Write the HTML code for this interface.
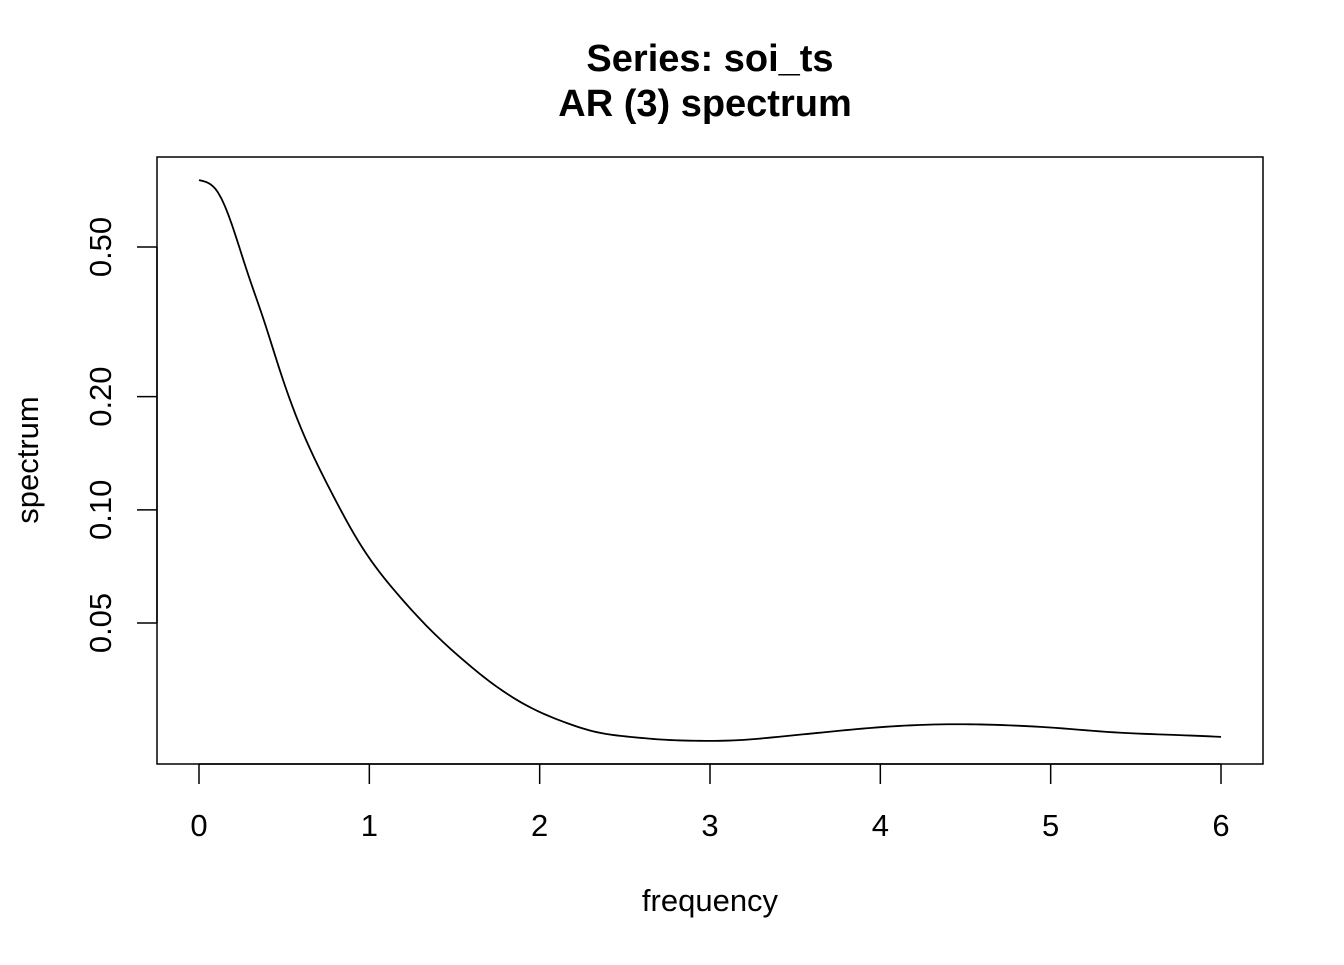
<!DOCTYPE html>
<html><head><meta charset="utf-8"><style>
body{margin:0;background:#fff}
text{font-family:"Liberation Sans",Arial,sans-serif;fill:#000}
</style></head><body>
<svg id="chart" width="1344" height="960" xmlns="http://www.w3.org/2000/svg">
<rect width="1344" height="960" fill="#fff"/>
<text x="710" y="71" font-size="38" font-weight="bold" text-anchor="middle">Series: soi_ts</text>
<text x="705" y="116" font-size="38" font-weight="bold" text-anchor="middle">AR (3) spectrum</text>
<rect x="157" y="157" width="1106" height="607" fill="none" stroke="#000" stroke-width="1.5"/>
<g id="xaxis"></g>
<g id="yaxis"></g>
<text x="710" y="911" font-size="31" text-anchor="middle">frequency</text>
<text transform="translate(38,460) rotate(-90)" font-size="31" text-anchor="middle">spectrum</text>
<path id="curve" fill="none" stroke="#000" stroke-width="1.8"/>
</svg>
<script>
const freq=[0,0.11,0.28,0.38,0.48,0.58,0.77,0.96,1.16,1.36,1.55,1.75,1.94,2.14,2.34,2.53,2.71,2.94,3.17,3.40,3.63,3.86,4.10,4.44,4.67,5.03,5.37,5.72,6.0];
const spec=[0.753,0.700,0.434,0.320,0.231,0.173,0.113,0.0792,0.0601,0.0479,0.0399,0.0338,0.0299,0.0273,0.0256,0.0249,0.0245,0.0243,0.0244,0.0249,0.0255,0.0261,0.0266,0.0269,0.0268,0.0263,0.0256,0.0252,0.0249];
const xTicks=[0,1,2,3,4,5,6];
const yTicks=[0.05,0.10,0.20,0.50];
const yTickLabels=["0.05","0.10","0.20","0.50"];
const X=f=>199+f*(1221-199)/6;
const Y=v=>247-376*Math.log10(v/0.5);
const NS="http://www.w3.org/2000/svg";
const xa=document.getElementById('xaxis'),ya=document.getElementById('yaxis');
function el(t,a,p){const e=document.createElementNS(NS,t);for(const k in a)e.setAttribute(k,a[k]);p.appendChild(e);return e;}
el('line',{x1:X(xTicks[0]),x2:X(xTicks[xTicks.length-1]),y1:764,y2:764,stroke:'#000','stroke-width':1.5},xa);
xTicks.forEach(t=>{
 const l=el('line',{x1:X(t),x2:X(t),y1:764,y2:784,stroke:'#000','stroke-width':1.5},xa);
 
 
 const tx=el('text',{x:X(t),y:836,'font-size':31,'text-anchor':'middle'},xa);tx.textContent=t;
 
 
});
el('line',{x1:157,x2:157,y1:Y(yTicks[0]),y2:Y(yTicks[yTicks.length-1]),stroke:'#000','stroke-width':1.5},ya);
yTicks.forEach((t,i)=>{
 const y=Y(t);
 const l=el('line',{x1:137,x2:157,y1:y,y2:y,stroke:'#000','stroke-width':1.5},ya);
 
 
 const tx=el('text',{transform:`translate(111,${y}) rotate(-90)`,'font-size':31,'text-anchor':'middle'},ya);tx.textContent=yTickLabels[i];
 
 
});
// natural cubic spline through data (in pixel space of log axis)
const xs=freq.map(X), ys=spec.map(Y), n=xs.length;
const h=[],al=[],l=[1],mu=[0],z=[0],c=new Array(n).fill(0),b=[],dd=[];
for(let i=0;i<n-1;i++)h.push(xs[i+1]-xs[i]);
for(let i=1;i<n-1;i++)al[i]=3/h[i]*(ys[i+1]-ys[i])-3/h[i-1]*(ys[i]-ys[i-1]);
for(let i=1;i<n-1;i++){l[i]=2*(xs[i+1]-xs[i-1])-h[i-1]*mu[i-1];mu[i]=h[i]/l[i];z[i]=(al[i]-h[i-1]*z[i-1])/l[i];}
for(let j=n-2;j>=0;j--){c[j]=(j>0?z[j]:0)-mu[j]*c[j+1];b[j]=(ys[j+1]-ys[j])/h[j]-h[j]*(c[j+1]+2*c[j])/3;dd[j]=(c[j+1]-c[j])/(3*h[j]);}
let d=`M${xs[0]},${ys[0]}`;
for(let i=0;i<n-1;i++){
 for(let k=1;k<=8;k++){const t=h[i]*k/8;d+=` L${(xs[i]+t).toFixed(2)},${(ys[i]+b[i]*t+c[i]*t*t+dd[i]*t*t*t).toFixed(2)}`;}
}
document.getElementById('curve').setAttribute('d',d);
</script>
</body></html>
